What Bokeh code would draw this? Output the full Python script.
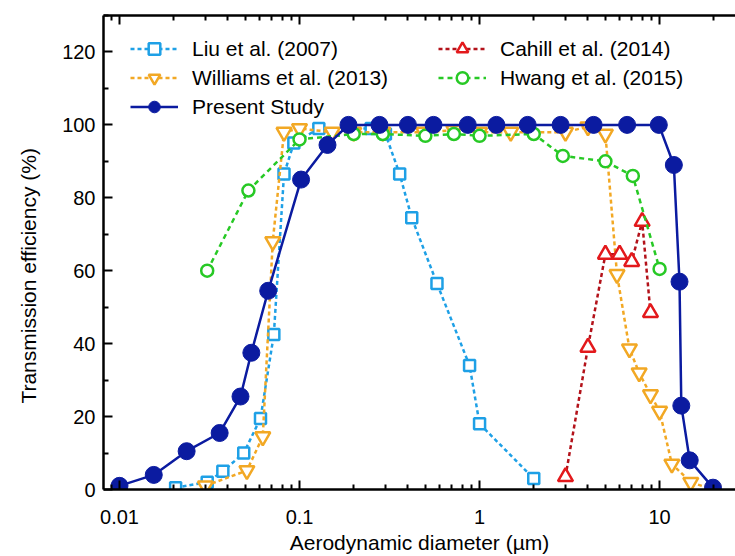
from bokeh.plotting import figure
from bokeh.models import (Range1d, FixedTicker, CustomJSTickFormatter, LinearAxis,
                          LogAxis, Legend, LegendItem)
from bokeh.embed import file_html
from bokeh.resources import INLINE

# ---- data ----
liu_x = [0.0205, 0.0307, 0.0375, 0.049, 0.0607, 0.072, 0.082, 0.093, 0.128, 0.25, 0.3, 0.36, 0.42, 0.58, 0.88, 1.0, 2.0]
liu_y = [0.5, 2, 5, 10, 19.5, 42.5, 86.5, 95, 99, 99, 97.5, 86.5, 74.5, 56.5, 34, 18, 3]

wil_x = [0.030, 0.051, 0.0625, 0.071, 0.082, 0.100, 0.152, 0.20, 0.29, 0.49, 0.72, 1.0, 1.49, 3.0, 4.0, 5.0, 5.8, 6.8, 7.7, 8.9, 10.0, 11.7, 14.9, 19.8]
wil_y = [1, 5.2, 14.5, 68, 98, 99, 98, 98, 98, 98, 98.5, 98, 98, 98, 99.5, 97.5, 59, 38.6, 32, 26, 21.5, 7, 2, 0]

cah_x = [3.0, 4.0, 5.0, 6.0, 7.0, 8.0, 8.9]
cah_y = [3.5, 39, 64.5, 64.5, 62.5, 73.5, 48.5]

hwa_x = [0.0307, 0.052, 0.10, 0.20, 0.29, 0.5, 0.72, 1.0, 2.0, 2.9, 5.0, 7.1, 10.0]
hwa_y = [60, 82, 96, 97.5, 97.5, 97, 97.5, 97, 97.5, 91.5, 90, 86, 60.5]

pre_x = [0.010, 0.0155, 0.0236, 0.036, 0.047, 0.054, 0.067, 0.102, 0.143, 0.187, 0.278, 0.40, 0.555,
         0.86, 1.24, 1.85, 2.82, 4.3, 6.6, 9.9, 12.0, 12.9, 13.2, 14.7, 19.8]
pre_y = [1, 4, 10.5, 15.5, 25.5, 37.5, 54.5, 85, 94.5, 100, 100, 100, 100,
         100, 100, 100, 100, 100, 100, 100, 89, 57, 23, 8, 0.5]

x_ticks = [0.01, 0.1, 1, 10]
y_ticks = [0, 20, 40, 60, 80, 100, 120]
y_title = "Transmission efficiency (%)"
x_title = "Aerodynamic diameter (µm)"

FONT = "Liberation Sans"

x_minor = []
for d in [0.001, 0.01, 0.1, 1, 10]:
    for k in range(2, 10):
        x_minor.append(d * k)

p = figure(width=735, height=556, x_axis_type="log", output_backend="svg",
           toolbar_location=None,
           x_range=Range1d(0.00815, 26.4), y_range=Range1d(0, 130),
           min_border_left=103, min_border_right=0, min_border_top=15, min_border_bottom=67)
p.outline_line_color = None
p.grid.visible = False
p.background_fill_color = "white"

def style_axis(ax):
    ax.axis_line_width = 2.5
    ax.axis_line_color = "black"
    ax.major_tick_in = 9
    ax.major_tick_out = 0
    ax.minor_tick_in = 5
    ax.minor_tick_out = 0
    ax.major_tick_line_width = 2
    ax.minor_tick_line_width = 2
    ax.major_tick_line_color = "black"
    ax.minor_tick_line_color = "black"
    ax.major_label_text_font = FONT
    ax.major_label_text_font_size = "20px"
    ax.major_label_text_color = "black"
    ax.axis_label_text_font = FONT
    ax.axis_label_text_font_size = "21px"
    ax.axis_label_text_font_style = "normal"
    ax.axis_label_text_color = "black"

xt = FixedTicker(ticks=x_ticks, minor_ticks=x_minor)
yt = FixedTicker(ticks=y_ticks, minor_ticks=[10, 30, 50, 70, 90, 110, 130])

p.xaxis.ticker = xt
p.xaxis.formatter = CustomJSTickFormatter(code="return tick.toString();")
p.yaxis.ticker = yt
style_axis(p.xaxis[0])
style_axis(p.yaxis[0])
p.xaxis.axis_label = x_title
# trailing no-break spaces move the visible title a little below the frame centre
p.yaxis.axis_label = y_title + "\u00a0" * 8
p.xaxis.major_label_standoff = 20
p.yaxis.major_label_standoff = 8
p.xaxis.axis_label_standoff = 4
p.yaxis.axis_label_standoff = 19

top = LogAxis(ticker=FixedTicker(ticks=x_ticks, minor_ticks=x_minor))
style_axis(top)
top.major_label_text_font_size = "1px"
top.major_label_text_color = None
top.major_label_standoff = 0
p.add_layout(top, "above")

# ---- series ----
c_liu = "#1ea0e6"
c_wil = "#f2a824"
c_cah = "#e3191c"
c_cah_line = "#b3121a"
c_hwa = "#27c925"
c_pre = "#0b1ba0"

l1 = p.line(liu_x, liu_y, line_color=c_liu, line_width=2.5, line_dash="4 3")
s1 = p.scatter(liu_x, liu_y, marker="square", size=11, line_color=c_liu, line_width=2.5, fill_color="white")

l2 = p.line(wil_x, wil_y, line_color=c_wil, line_width=2.5, line_dash="4 3")
s2 = p.scatter(wil_x, wil_y, marker="inverted_triangle", size=15, line_color=c_wil, line_width=2.5, fill_color="white")

l3 = p.line(cah_x, cah_y, line_color=c_cah_line, line_width=2.5, line_dash="4 3")
s3 = p.scatter(cah_x, cah_y, marker="triangle", size=15, line_color=c_cah, line_width=2.5, fill_color="white")

l4 = p.line(hwa_x, hwa_y, line_color=c_hwa, line_width=2.5, line_dash="5 4")
s4 = p.scatter(hwa_x, hwa_y, marker="circle", size=12, line_color=c_hwa, line_width=2.5, fill_color="white")

l5 = p.line(pre_x, pre_y, line_color=c_pre, line_width=2.5)
s5 = p.scatter(pre_x, pre_y, marker="circle", size=17, line_color=c_pre, fill_color=c_pre)

def mk_legend(items, loc):
    lg = Legend(items=items, location=loc, border_line_color=None,
                background_fill_alpha=0, padding=0, margin=0, spacing=0,
                glyph_width=48, glyph_height=29, label_height=29,
                label_standoff=14, label_text_font=FONT,
                label_text_font_size="21px", label_text_color="black")
    return lg

leg1 = mk_legend([LegendItem(label="Liu et al. (2007)", renderers=[l1, s1]),
                  LegendItem(label="Williams et al. (2013)", renderers=[l2, s2]),
                  LegendItem(label="Present Study", renderers=[l5, s5])], (27, 368))
leg2 = mk_legend([LegendItem(label="Cahill et al. (2014)", renderers=[l3, s3]),
                  LegendItem(label="Hwang et al. (2015)", renderers=[l4, s4])], (335, 397))
p.add_layout(leg1)
p.add_layout(leg2)

open("out.html", "w").write(file_html(p, INLINE))
